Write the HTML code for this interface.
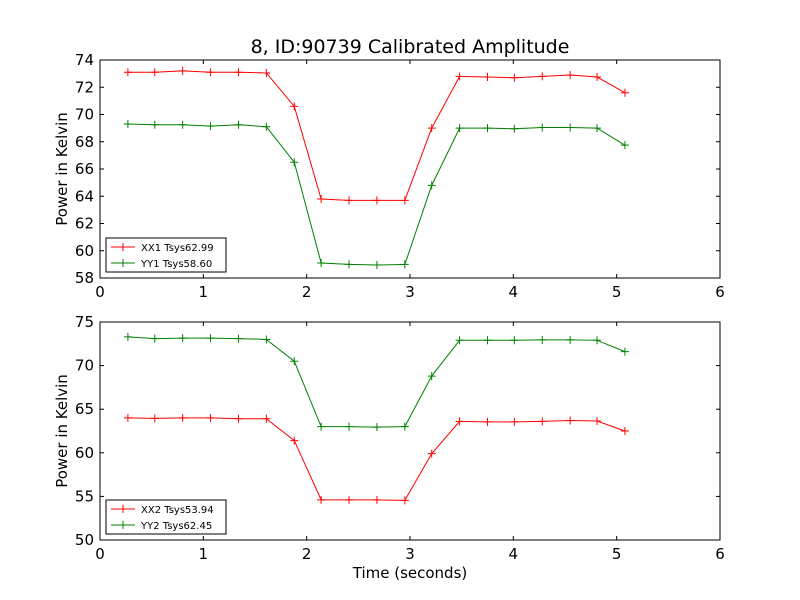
<!DOCTYPE html>
<html><head><meta charset="utf-8"><style>
body{margin:0;background:#fff}
svg{display:block;font-family:"DejaVu Sans","Liberation Sans",sans-serif}
</style></head><body>
<svg id="chart" width="800" height="600">
<rect width="800" height="600" fill="#fff"/>
<text x="410" y="53" font-size="19" text-anchor="middle">8, ID:90739 Calibrated Amplitude</text>
<text x="410" y="578" font-size="15" text-anchor="middle">Time (seconds)</text>
</svg>
<script>
const times=[0.27,0.53,0.80,1.07,1.34,1.61,1.88,2.14,2.41,2.68,2.95,3.21,3.48,3.75,4.01,4.28,4.55,4.81,5.08];
const xx1=[73.1,73.1,73.2,73.1,73.1,73.05,70.6,63.8,63.7,63.7,63.7,69.0,72.8,72.75,72.7,72.8,72.9,72.75,71.6];
const yy1=[69.3,69.25,69.25,69.15,69.25,69.1,66.5,59.1,59.0,58.95,59.0,64.8,69.0,69.0,68.95,69.05,69.05,69.0,67.75];
const xx2=[64.0,63.95,64.0,64.0,63.9,63.9,61.4,54.6,54.6,54.6,54.55,59.9,63.6,63.55,63.55,63.6,63.7,63.65,62.5];
const yy2=[73.3,73.1,73.15,73.15,73.1,73.0,70.5,63.0,63.0,62.95,63.0,68.8,72.9,72.9,72.9,72.95,72.95,72.9,71.6];
const xTicks=[0,1,2,3,4,5,6];
const yTicks1=[58,60,62,64,66,68,70,72,74];
const yTicks2=[50,55,60,65,70,75];
const legend1=["XX1 Tsys62.99","YY1 Tsys58.60"];
const legend2=["XX2 Tsys53.94","YY2 Tsys62.45"];
const NS="http://www.w3.org/2000/svg";
const svg=document.getElementById('chart');
function mk(t,a,p){const e=document.createElementNS(NS,t);for(const k in a)e.setAttribute(k,a[k]);(p||svg).appendChild(e);return e;}
function panel(top,bottom,ymin,ymax,yTicks,series,labels,colors,name){
  const L=100,R=720;
  const g=mk('g',{});
  
  
  const X=v=>L+(v-0)/(6-0)*(R-L);
  const Y=v=>bottom-(v-ymin)/(ymax-ymin)*(bottom-top);
  xTicks.forEach(t=>{
    mk('line',{x1:X(t),x2:X(t),y1:bottom,y2:bottom-4,stroke:'#000'},g);
    mk('line',{x1:X(t),x2:X(t),y1:top,y2:top+4,stroke:'#000'},g);
    const tx=mk('text',{x:X(t),y:bottom+19,'font-size':15,'text-anchor':'middle'},g);
    tx.textContent=t;
    
    
  });
  yTicks.forEach(t=>{
    mk('line',{x1:L,x2:L+4,y1:Y(t),y2:Y(t),stroke:'#000'},g);
    mk('line',{x1:R,x2:R-4,y1:Y(t),y2:Y(t),stroke:'#000'},g);
    const tx=mk('text',{x:L-6,y:Y(t)+5,'font-size':15,'text-anchor':'end'},g);
    tx.textContent=t;
    
    
  });
  series.forEach((s,i)=>{
    const pl=mk('polyline',{points:s.map((v,j)=>X(times[j])+','+Y(v)).join(' '),fill:'none',stroke:colors[i],'stroke-width':1},g);
    
    
    s.forEach((v,j)=>{
      const m=mk('path',{d:`M${X(times[j])-4},${Y(v)}h8M${X(times[j])},${Y(v)-4}v8`,stroke:colors[i]},g);
      
      
    });
  });
  mk('rect',{x:L,y:top,width:R-L,height:bottom-top,fill:'none',stroke:'#000'},g);
  const yl=mk('text',{x:0,y:0,'font-size':15,'text-anchor':'middle',transform:`translate(67,${(top+bottom)/2}) rotate(-90)`},g);
  yl.textContent='Power in Kelvin';
  
  
  const lg=mk('g',{},g);
  
  
  mk('rect',{x:106,y:bottom-40,width:120,height:34,fill:'#fff',stroke:'#000'},lg);
  labels.forEach((lb,i)=>{
    const y=bottom-31+i*16;
    mk('line',{x1:111,x2:135,y1:y,y2:y,stroke:colors[i]},lg);
    mk('path',{d:`M119,${y}h8M123,${y-4}v8`,stroke:colors[i]},lg);
    const t=mk('text',{x:141,y:y+4,'font-size':10},lg);
    t.textContent=lb;
    
    
  });
}
panel(60,278,58,74,yTicks1,[xx1,yy1],legend1,['#ff0000','#008000'],'top-panel');
panel(322,540,50,75,yTicks2,[xx2,yy2],legend2,['#ff0000','#008000'],'bottom-panel');
</script>
</body></html>
